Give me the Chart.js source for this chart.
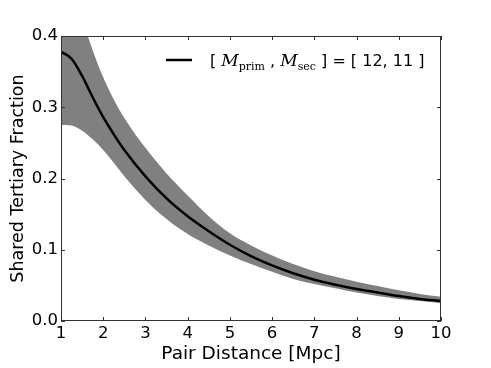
<!DOCTYPE html>
<html>
<head>
<meta charset="utf-8">
<script src="https://cdn.jsdelivr.net/npm/chart.js@4/dist/chart.umd.min.js"></script>
<style>
    html, body { margin: 0; padding: 0; background: #fff; }
    #wrap { width: 491px; height: 368px; }
</style>
</head>
<body>
<div id="wrap"><canvas id="tertiary"></canvas></div>
<script>
// pair distance in Mpc
var distances = [1.0, 1.25, 1.5, 1.75, 2.0, 2.25, 2.5, 3.0, 3.5, 4.0, 4.5, 5.0, 5.5, 6.0, 6.5, 7.0, 7.5, 8.0, 8.5, 9.0, 9.5, 10.0];
// shared tertiary fraction, median and spread
var fracMean = [0.378, 0.368, 0.344, 0.314, 0.286, 0.262, 0.240, 0.203, 0.172, 0.147, 0.126, 0.107, 0.091, 0.078, 0.067, 0.058, 0.051, 0.045, 0.040, 0.035, 0.031, 0.028];
var fracUpper = [0.53, 0.475, 0.425, 0.38, 0.342, 0.311, 0.285, 0.243, 0.207, 0.176, 0.147, 0.123, 0.106, 0.092, 0.080, 0.070, 0.062, 0.055, 0.049, 0.043, 0.038, 0.034];
var fracLower = [0.275, 0.2745, 0.267, 0.255, 0.240, 0.222, 0.203, 0.170, 0.143, 0.122, 0.106, 0.092, 0.080, 0.069, 0.059, 0.052, 0.046, 0.040, 0.035, 0.031, 0.028, 0.025];
var xTicks = [1, 2, 3, 4, 5, 6, 7, 8, 9, 10];
var yTicks = [0.0, 0.1, 0.2, 0.3, 0.4];

function toPoints(vals) {
    var pts = [];
    for (var i = 0; i < distances.length; i++) {
        pts.push({x: distances[i], y: vals[i]});
    }
    return pts;
}

// matplotlib style frame with inward ticks on all sides
var frameTicks = {
    id: 'frameTicks',
    afterDraw: function (chart) {
        var c = chart.ctx, a = chart.chartArea;
        var xs = chart.scales.x, ys = chart.scales.y;
        c.save();
        c.strokeStyle = '#333';
        c.lineWidth = 1;
        c.strokeRect(a.left + 0.5, a.top + 0.5, a.right - a.left - 1, a.bottom - a.top - 1);
        c.beginPath();
        xTicks.forEach(function (t) {
            var px = Math.round(xs.getPixelForValue(t)) + 0.5;
            c.moveTo(px, a.bottom); c.lineTo(px, a.bottom - 4);
            c.moveTo(px, a.top); c.lineTo(px, a.top + 4);
        });
        yTicks.forEach(function (t) {
            var py = Math.round(ys.getPixelForValue(t)) + 0.5;
            c.moveTo(a.left, py); c.lineTo(a.left + 4, py);
            c.moveTo(a.right, py); c.lineTo(a.right - 4, py);
        });
        c.stroke();
        c.restore();
    }
};

// legend with subscripts, drawn by hand
var mathLegend = {
    id: 'mathLegend',
    afterDraw: function (chart) {
        var c = chart.ctx;
        c.save();
        c.strokeStyle = '#000';
        c.lineWidth = 2.5;
        c.beginPath();
        c.moveTo(166, 60);
        c.lineTo(192, 60);
        c.stroke();

        var sans = '16px "DejaVu Sans"';
        var mathIt = 'italic 17px "DejaVu Serif"';
        var sub = '11px "DejaVu Serif"';
        var parts = [
            ['[ ', sans, 0],
            ['M', mathIt, 0],
            ['prim', sub, 4],
            [' , ', sans, 0],
            ['M', mathIt, 0],
            ['sec', sub, 4],
            [' ] = [ 12, 11 ]', sans, 0]
        ];
        var x = 210, base = 66;
        c.fillStyle = '#000';
        c.textBaseline = 'alphabetic';
        c.textAlign = 'left';
        parts.forEach(function (p) {
            c.font = p[1];
            c.fillText(p[0], x, base + p[2]);
            x += c.measureText(p[0]).width;
        });
        c.restore();
    }
};

var ctx = document.getElementById('tertiary');

var data = {
    datasets: [
        {
            label: 'upper',
            data: toPoints(fracUpper),
            borderWidth: 0,
            pointRadius: 0,
            backgroundColor: '#808080',
            fill: '+1',
            cubicInterpolationMode: 'monotone',
            order: 2
        },
        {
            label: 'lower',
            data: toPoints(fracLower),
            borderWidth: 0,
            pointRadius: 0,
            fill: false,
            cubicInterpolationMode: 'monotone',
            order: 3
        },
        {
            label: '[ Mprim , Msec ] = [ 12, 11 ]',
            data: toPoints(fracMean),
            borderColor: '#000',
            borderWidth: 2.5,
            pointRadius: 0,
            fill: false,
            cubicInterpolationMode: 'monotone',
            order: 1
        }
    ]
};

var option = {
    responsive: true,
    maintainAspectRatio: false,
    animation: false,
    layout: {padding: {left: 0, right: 50, top: 36, bottom: 0}},
    plugins: {
        legend: {display: false},
        tooltip: {enabled: false}
    },
    scales: {
        x: {
            type: 'linear',
            min: 1,
            max: 10,
            afterFit: function (s) { s.height = 47; },
            afterBuildTicks: function (s) { s.ticks = xTicks.map(function (v) { return {value: v}; }); },
            grid: {display: false, drawTicks: false},
            border: {display: false},
            ticks: {
                color: '#000',
                padding: 3,
                maxRotation: 0,
                font: {family: 'DejaVu Sans', size: 16.5}
            },
            title: {
                display: true,
                text: 'Pair Distance [Mpc]',
                color: '#000',
                padding: {top: 0, bottom: 3},
                font: {family: 'DejaVu Sans', size: 18.5}
            }
        },
        y: {
            type: 'linear',
            min: 0,
            max: 0.4,
            afterFit: function (s) { s.width = 61; },
            afterBuildTicks: function (s) { s.ticks = yTicks.map(function (v) { return {value: v}; }); },
            grid: {display: false, drawTicks: false},
            border: {display: false},
            ticks: {
                color: '#000',
                padding: 3,
                font: {family: 'DejaVu Sans', size: 16.5},
                callback: function (v) { return v.toFixed(1); }
            },
            title: {
                display: true,
                text: 'Shared Tertiary Fraction',
                color: '#000',
                padding: {top: 8, bottom: 0},
                font: {family: 'DejaVu Sans', size: 17.5}
            }
        }
    }
};

var tertiaryChart = new Chart(ctx, {
    type: 'line',
    data: data,
    options: option,
    plugins: [frameTicks, mathLegend]
});
</script>
</body>
</html>
